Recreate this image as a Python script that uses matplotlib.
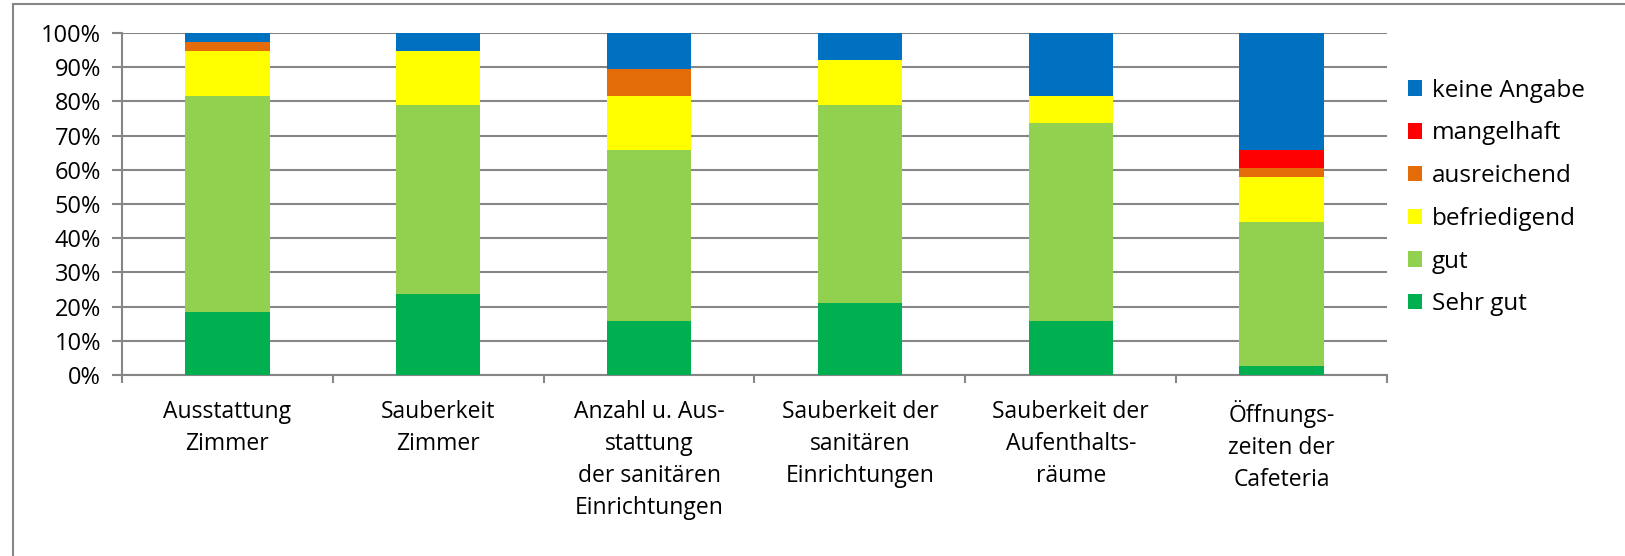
import numpy as np
import matplotlib.pyplot as plt
from matplotlib.patches import Patch

plt.rcParams['font.family'] = ['Open Sans', 'DejaVu Sans']

# categories (x axis)
kategorien = ['Ausstattung\nZimmer',
              'Sauberkeit\nZimmer',
              'Anzahl u. Aus-\nstattung\nder sanitären\nEinrichtungen',
              'Sauberkeit der\nsanitären\nEinrichtungen',
              'Sauberkeit der\nAufenthalts-\nräume',
              'Öffnungs-\nzeiten der\nCafeteria']

# shares in percent
sehr_gut = [18.4, 23.7, 15.8, 21.1, 15.8, 2.6]
gut = [63.2, 55.3, 50.0, 57.9, 57.9, 42.1]
befriedigend = [13.2, 15.8, 15.8, 13.2, 7.9, 13.2]
ausreichend = [2.6, 0.0, 7.9, 0.0, 0.0, 2.6]
mangelhaft = [0.0, 0.0, 0.0, 0.0, 0.0, 5.3]
keine_angabe = [2.6, 5.3, 10.5, 7.9, 18.4, 34.2]

serien = ['Sehr gut', 'gut', 'befriedigend', 'ausreichend', 'mangelhaft', 'keine Angabe']
farben = ['#00B050', '#92D050', '#FFFF00', '#E36C09', '#FF0000', '#0070C0']
werte = [sehr_gut, gut, befriedigend, ausreichend, mangelhaft, keine_angabe]

fig = plt.figure(figsize=(16.25, 5.56), dpi=100)
ax = fig.add_axes([0.0751, 0.3255, 0.7784, 0.6151])

# outer chart border (only top and left are visible in the crop)
fig.add_artist(plt.Rectangle((13 / 1625, -0.1), 1.2, 1.1 - 4 / 556,
                             transform=fig.transFigure, fill=False,
                             edgecolor='#868686', linewidth=1.5))

x = np.arange(len(kategorien))
unten = np.zeros(len(kategorien))
for name, farbe, w in zip(serien, farben, werte):
    w = np.array(w) / 100.0
    ax.bar(x, w, 0.4, bottom=unten, color=farbe, label=name, zorder=3)
    unten = unten + w

ax.set_xlim(-0.5, len(kategorien) - 0.5)
ax.set_ylim(0, 1)
ax.set_yticks(np.arange(0, 1.01, 0.1))
ax.set_yticklabels([f'{int(round(v * 100))}%' for v in np.arange(0, 1.01, 0.1)], fontsize=17)
ax.yaxis.grid(True, color='#868686', linewidth=1.5, zorder=0)
ax.set_axisbelow(True)

ax.set_xticks(x)
ax.set_xticklabels(kategorien, fontsize=16.5, linespacing=1.45, va='top')
ax.set_xticks(np.arange(-0.5, len(kategorien)), minor=True)
ax.tick_params(axis='x', which='major', length=0, pad=18)
ax.tick_params(axis='x', which='minor', length=6, color='#868686', width=1.5)
ax.tick_params(axis='y', length=7, color='#868686', width=1.5, pad=8)

for s in ['top', 'right']:
    ax.spines[s].set_visible(False)
for s in ['left', 'bottom']:
    ax.spines[s].set_color('#868686')
    ax.spines[s].set_linewidth(1.5)

handles = [Patch(facecolor=f, label=n) for n, f in zip(serien, farben)][::-1]
fig.legend(handles=handles, loc='upper left', bbox_to_anchor=(1398 / 1625, 1 - 69 / 556),
           frameon=False, fontsize=17.5, handlelength=0.6, handleheight=0.6,
           handletextpad=0.4, labelspacing=0.77, borderaxespad=0)

fig.savefig('out.png', dpi=100)
